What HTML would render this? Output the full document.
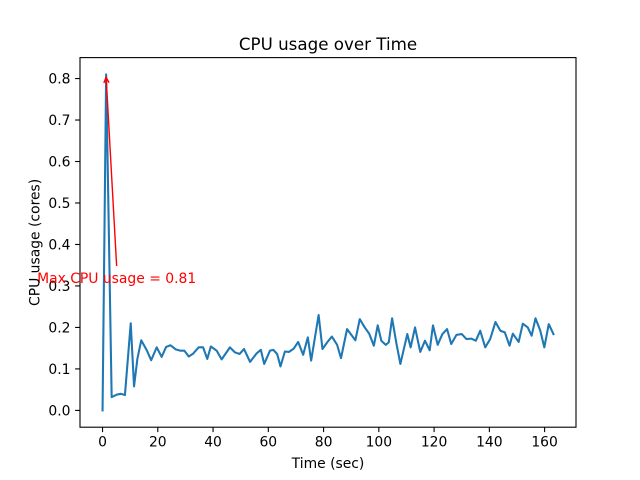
<!DOCTYPE html>
<html><head><meta charset="utf-8"><style>
html,body{margin:0;padding:0;background:#fff;}
svg{display:block;font-family:"DejaVu Sans","Liberation Sans",sans-serif;}
</style></head><body>
<svg id="chart" width="640" height="480" viewBox="0 0 640 480">
<rect width="640" height="480" fill="#fff"/>
<text x="328" y="50" font-size="16.7" text-anchor="middle">CPU usage over Time</text>
<g id="ticks"></g>
<g id="plot"></g>
<rect x="80" y="57.6" width="496" height="369.6" fill="none" stroke="#000" stroke-width="1.1"/>
<text x="328" y="468" font-size="13.9" text-anchor="middle">Time (sec)</text>
<text transform="translate(39.5,242.4) rotate(-90)" font-size="13.9" text-anchor="middle">CPU usage (cores)</text>
</svg>
<script>
const times = [0,1.3,3.3,5.1,6.6,8.1,10.2,11.4,12.6,14.0,16.0,17.6,19.6,21.4,23.0,24.6,26.5,28.1,29.6,31.2,32.8,34.8,36.4,37.9,39.2,41.3,43.1,46.1,47.9,49.6,51.2,53.4,55.7,57.3,58.5,60.6,61.8,63.2,64.4,66.0,67.5,69.2,70.8,72.6,74.3,75.5,78.2,79.6,81.3,83.0,84.9,86.3,88.5,91.5,93.1,94.9,96.5,98.2,99.6,100.9,102.5,103.6,104.8,106.4,107.8,110.3,111.5,113.1,115.0,116.7,118.4,119.6,121.3,123.0,124.7,126.2,128.1,130.0,131.7,133.5,135.1,136.7,138.5,140.3,142.2,144.0,145.6,147.3,148.5,150.6,152.1,153.9,155.3,156.7,158.4,159.9,161.5,163.2];
const usage = [0,0.81,0.032,0.038,0.040,0.037,0.210,0.058,0.124,0.169,0.145,0.121,0.152,0.129,0.153,0.157,0.147,0.144,0.144,0.130,0.137,0.152,0.152,0.124,0.154,0.144,0.123,0.152,0.140,0.136,0.148,0.117,0.137,0.146,0.112,0.144,0.146,0.136,0.106,0.142,0.141,0.149,0.165,0.134,0.176,0.120,0.230,0.148,0.164,0.178,0.158,0.126,0.196,0.169,0.220,0.200,0.185,0.156,0.205,0.168,0.158,0.164,0.222,0.160,0.112,0.184,0.152,0.200,0.141,0.168,0.145,0.205,0.158,0.184,0.196,0.160,0.182,0.184,0.172,0.173,0.168,0.192,0.152,0.172,0.213,0.192,0.188,0.156,0.185,0.165,0.209,0.200,0.180,0.222,0.193,0.152,0.208,0.184];
const xTicks = [0,20,40,60,80,100,120,140,160];
const yTicks = [0,0.1,0.2,0.3,0.4,0.5,0.6,0.7,0.8];
const annotationLabel = "Max CPU usage = ";

const L=80,R=576,T=57.6,B=427.2;
const tMin=Math.min(...times),tMax=Math.max(...times);
const uMin=Math.min(...usage),uMax=Math.max(...usage);
const xm=(tMax-tMin)*0.05, ym=(uMax-uMin)*0.05;
const x0=tMin-xm,x1=tMax+xm,y0=uMin-ym,y1=uMax+ym;
const sx=v=>L+(v-x0)/(x1-x0)*(R-L);
const sy=v=>B-(v-y0)/(y1-y0)*(B-T);
const NS="http://www.w3.org/2000/svg";
const tg=document.getElementById('ticks'), pg=document.getElementById('plot');
function mk(tag,attrs,parent){const e=document.createElementNS(NS,tag);for(const k in attrs)e.setAttribute(k,attrs[k]);parent.appendChild(e);return e;}
xTicks.forEach(v=>{
  const X=sx(v);
  const l=mk('line',{x1:X,x2:X,y1:B,y2:B+4.9,stroke:'#000','stroke-width':1.1},tg);
  
  
  const t=mk('text',{x:X,y:B+19.5,'font-size':13.9,'text-anchor':'middle'},tg);
  t.textContent=String(v);
  
  
});
yTicks.forEach(v=>{
  const Y=sy(v);
  const l=mk('line',{x1:L-4.9,x2:L,y1:Y,y2:Y,stroke:'#000','stroke-width':1.1},tg);
  
  
  const t=mk('text',{x:L-9.5,y:Y+5,'font-size':13.9,'text-anchor':'end'},tg);
  t.textContent=v.toFixed(1);
  
  
});
const pts=times.map((t,i)=>sx(t).toFixed(2)+','+sy(usage[i]).toFixed(2)).join(' ');
const line=mk('polyline',{points:pts,fill:'none',stroke:'#1f77b4','stroke-width':2.08,'stroke-linejoin':'round','stroke-linecap':'square'},pg);


// annotation
const mi=usage.indexOf(uMax);
const hx=sx(times[mi]), hy=sy(uMax)+3;
const tx=hx+10.5, ty=266;
const arr=mk('g',{stroke:'red','stroke-width':1.4,fill:'none'},pg);


mk('line',{x1:tx,y1:ty,x2:hx,y2:hy},arr);
const ang=Math.atan2(ty-hy,tx-hx);
const a1=ang+0.45,a2=ang-0.45,hl=6;
mk('polyline',{points:`${hx+hl*Math.cos(a1)},${hy+hl*Math.sin(a1)} ${hx},${hy} ${hx+hl*Math.cos(a2)},${hy+hl*Math.sin(a2)}`},arr);
const at=mk('text',{x:tx,y:283,'font-size':13.9,'text-anchor':'middle',fill:'red'},pg);
at.textContent=annotationLabel+uMax.toFixed(2);


</script>
</body></html>
